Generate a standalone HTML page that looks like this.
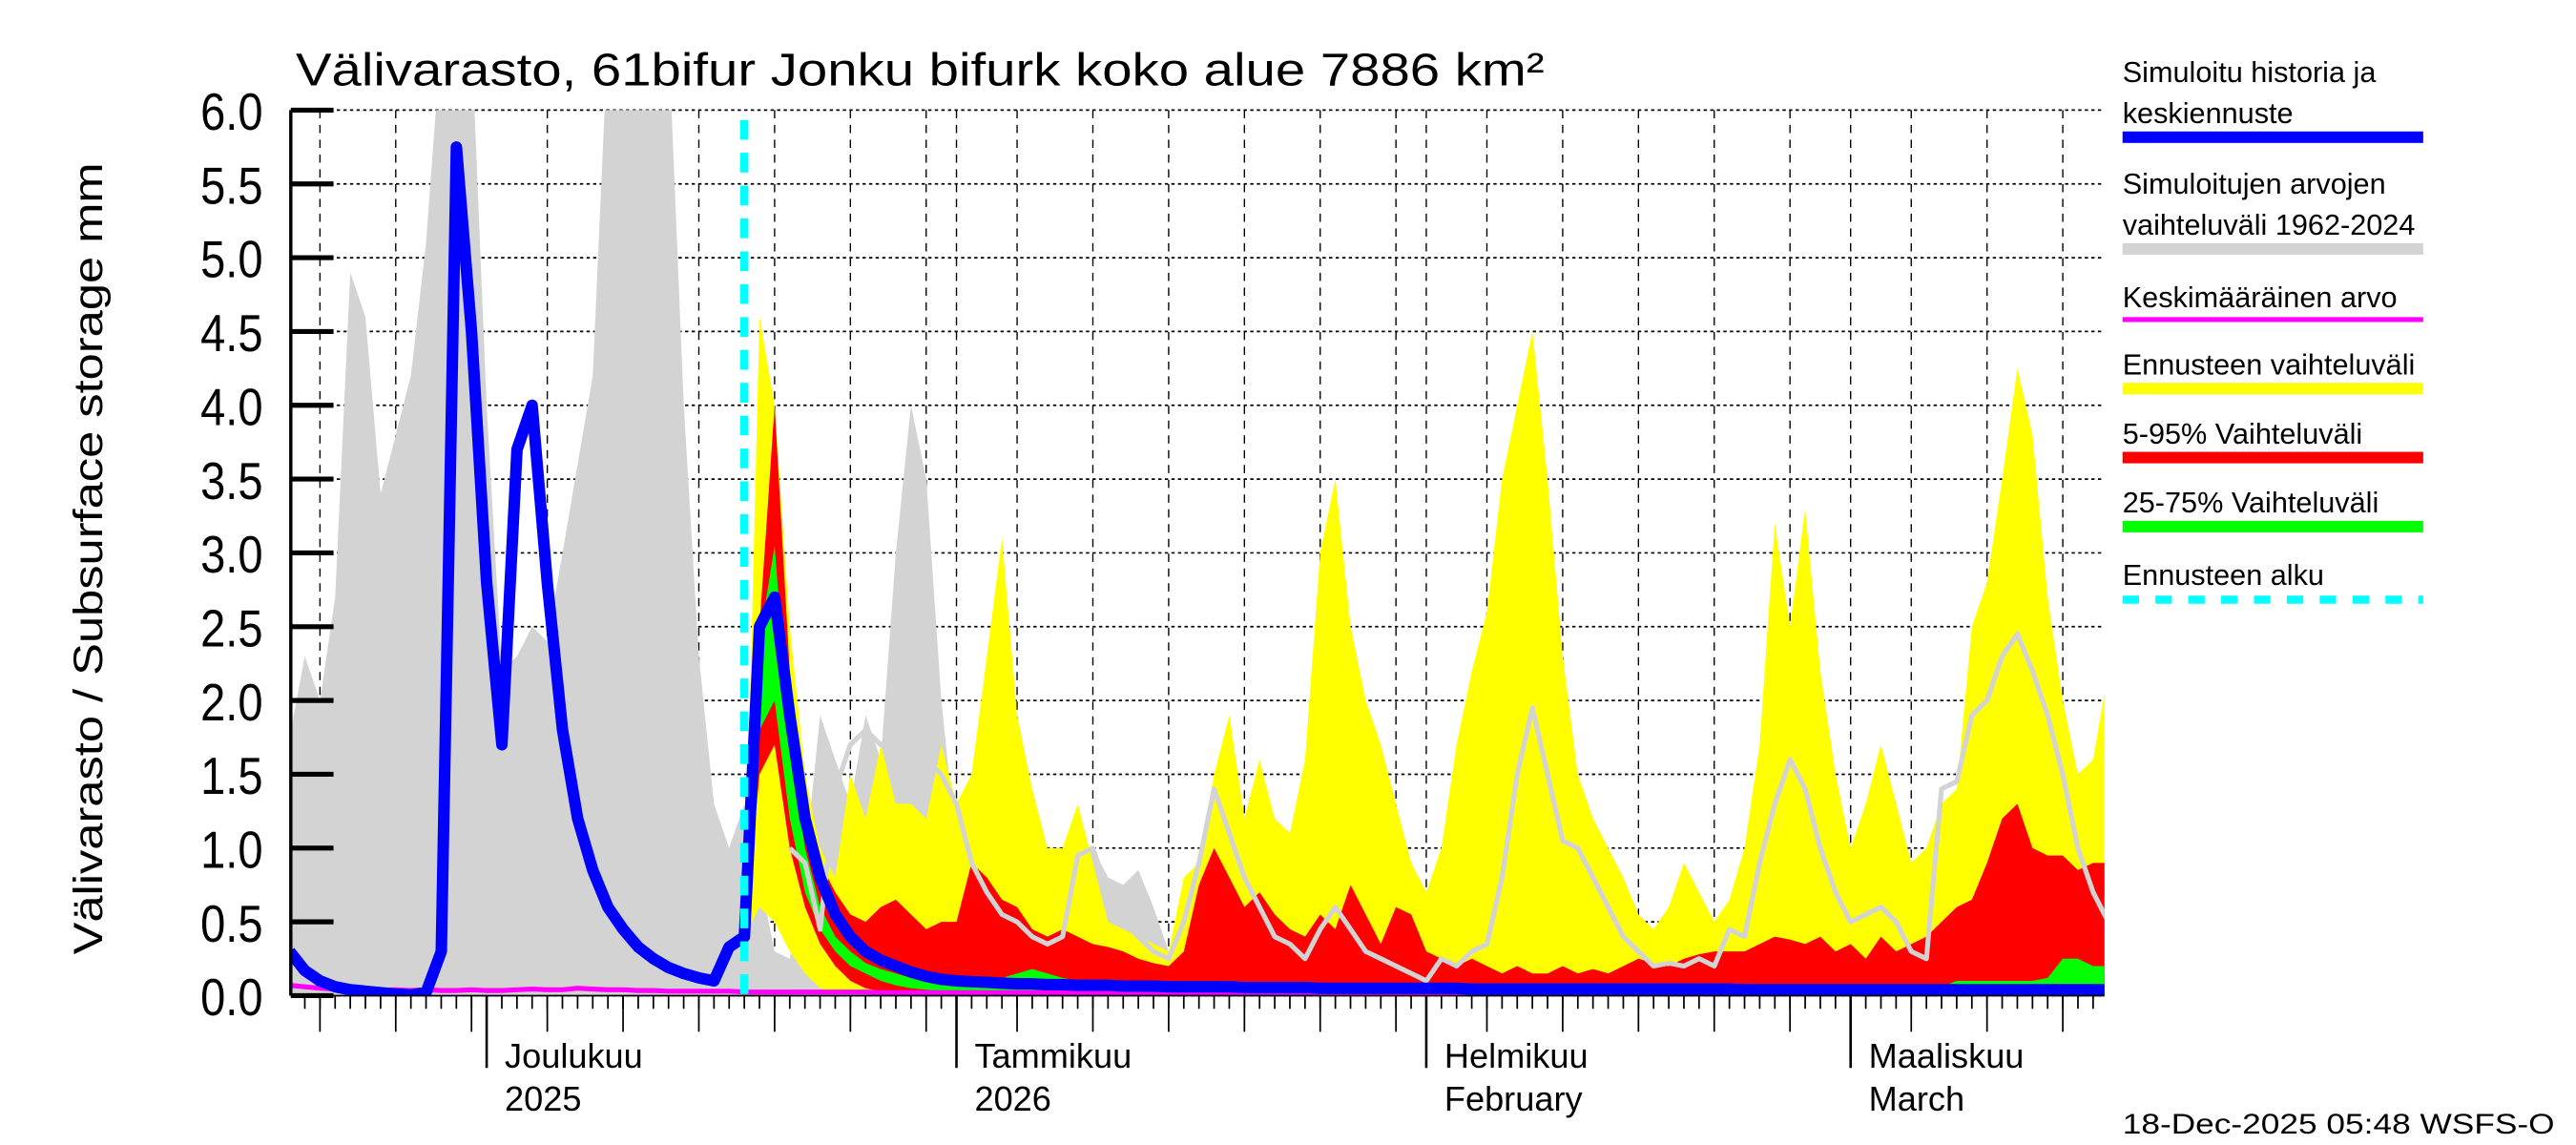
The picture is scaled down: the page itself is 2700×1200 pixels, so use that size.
<!DOCTYPE html>
<html><head><meta charset="utf-8"><style>
html,body{margin:0;padding:0;background:#fff;}
svg{display:block;}
text{font-family:"Liberation Sans",sans-serif;fill:#000;}
</style></head><body>
<svg id="chart" width="2700" height="1200" viewBox="0 0 1568 696.9" xmlns="http://www.w3.org/2000/svg">
<defs><clipPath id="plotclip"><rect x="177" y="67" width="1104" height="539"/></clipPath></defs>
<rect x="0" y="0" width="1568" height="697" fill="#fff"/>
<text x="180" y="52" font-size="28" textLength="760" lengthAdjust="spacingAndGlyphs">Välivarasto, 61bifur Jonku bifurk koko alue 7886 km²</text>
<g id="grid"></g>
<g id="series" clip-path="url(#plotclip)"></g>
<g id="axes"></g>
<text transform="translate(62,340) rotate(-90)" text-anchor="middle" font-size="25" textLength="482" lengthAdjust="spacingAndGlyphs">Välivarasto / Subsurface storage  mm</text>
<g id="legend">
<text x="1292" y="50" font-size="17.8">Simuloitu historia ja</text>
<text x="1292" y="75" font-size="17.8">keskiennuste</text>
<rect x="1292" y="80" width="183" height="7" fill="#0000ff"/>
<text x="1292" y="118" font-size="17.8">Simuloitujen arvojen</text>
<text x="1292" y="143" font-size="17.8">vaihteluväli 1962-2024</text>
<rect x="1292" y="148" width="183" height="7" fill="#d3d3d3"/>
<text x="1292" y="187" font-size="17.8">Keskimääräinen arvo</text>
<rect x="1292" y="193" width="183" height="3" fill="#ff00ff"/>
<text x="1292" y="228" font-size="17.8">Ennusteen vaihteluväli</text>
<rect x="1292" y="233" width="183" height="7" fill="#ffff00"/>
<text x="1292" y="270" font-size="17.8">5-95% Vaihteluväli</text>
<rect x="1292" y="275" width="183" height="7" fill="#ff0000"/>
<text x="1292" y="312" font-size="17.8">25-75% Vaihteluväli</text>
<rect x="1292" y="317" width="183" height="7" fill="#00ff00"/>
<text x="1292" y="356" font-size="17.8">Ennusteen alku</text>
<line x1="1292" y1="365" x2="1475" y2="365" stroke="#00ffff" stroke-width="5" stroke-dasharray="10 10"/>
</g>
<text x="1292" y="690" font-size="17" textLength="263" lengthAdjust="spacingAndGlyphs">18-Dec-2025 05:48 WSFS-O</text>
</svg>
<script>
// ---- data (days relative to 1 Jan 2026) ----
const yTicks = [0,0.5,1,1.5,2,2.5,3,3.5,4,4.5,5,5.5,6];
const yTickLabels = ["0.0","0.5","1.0","1.5","2.0","2.5","3.0","3.5","4.0","4.5","5.0","5.5","6.0"];
const monthDays = [-31,0,31,59];
const monthLabels1 = ["Joulukuu","Tammikuu","Helmikuu","Maaliskuu"];
const monthLabels2 = ["2025","2026","February","March"];
const gridDays = [-42,-37,-32,-27,-22,-17,-12,-7,-2,0,4,9,14,19,24,29,31,35,40,45,50,55,59,63,68,73];
const forecastStartDay = -14;
const histStart = -44;
const histMax = [1.75,2.3,2.0,2.7,4.9,4.6,3.4,3.8,4.2,5.1,6.5,6.5,6.5,4.0,2.2,2.3,2.5,2.4,3.0,3.6,4.2,6.5,6.5,6.5,6.5,6.5,4.0,2.3,1.3,1.0,1.3,0.8,0.3,0.25,0.9,1.9,1.6,1.3,1.9,1.6,3.0,4.0,3.5,2.0,1.0,0.8,0.7,0.6,0.6,0.6,0.7,0.8,0.9,1.0,0.8,0.75,0.85,0.6,0.3,0.25,0.25,0.25,0.25,0.25,0.25,0.25,0.25,0.25,0.25,0.25,0.25,0.25,0.25,0.25,0.25,0.25,0.25,0.25,0.25,0.25,0.25,0.25,0.25,0.25,0.25,0.25,0.25,0.25,0.25,0.25,0.25,0.25,0.25,0.25,0.25,0.25,0.25,0.25,0.25,0.25,0.25,0.25,0.25,0.25,0.25,0.25,0.25,0.25,0.25,0.25,0.25,0.25,0.25,0.25,0.25,0.25,0.25,0.25,0.25,0.25,0.25];
const fcStart = -14;
const yellowHi = [0.45,4.6,4.0,2.5,1.5,1.0,0.8,1.5,1.2,1.7,1.3,1.3,1.2,1.7,1.3,1.5,2.3,3.1,1.9,1.4,1.0,1.0,1.3,0.9,0.5,0.45,0.4,0.35,0.3,0.8,0.9,1.5,1.9,1.2,1.6,1.2,1.1,1.6,3.0,3.5,2.5,2.0,1.7,1.3,0.9,0.7,1.0,1.7,2.2,2.6,3.5,4.0,4.5,3.5,2.3,1.5,1.2,1.0,0.8,0.55,0.45,0.6,0.9,0.7,0.5,0.65,1.0,1.7,3.2,2.5,3.3,2.2,1.5,1.0,1.3,1.7,1.3,0.9,1.0,1.3,1.4,2.5,2.8,3.5,4.25,3.8,2.7,2.0,1.5,1.6,2.2];
const yellowLo = [0.4,0.6,0.5,0.3,0.15,0.05,0.02,0.01,0.01,0.01,0.01,0.01,0.01,0.01];
const redHi = [0.4,2.5,4.0,2.2,1.3,0.9,0.7,0.55,0.5,0.6,0.65,0.55,0.45,0.5,0.5,0.9,0.8,0.65,0.6,0.45,0.4,0.45,0.4,0.35,0.33,0.3,0.25,0.22,0.2,0.3,0.75,1.0,0.8,0.6,0.7,0.55,0.45,0.4,0.55,0.45,0.75,0.55,0.35,0.6,0.55,0.3,0.25,0.2,0.25,0.2,0.15,0.2,0.15,0.15,0.2,0.15,0.18,0.15,0.2,0.25,0.22,0.2,0.25,0.28,0.3,0.3,0.3,0.35,0.4,0.38,0.35,0.4,0.3,0.35,0.25,0.4,0.3,0.35,0.4,0.5,0.6,0.65,0.9,1.2,1.3,1.0,0.95,0.95,0.85,0.9,0.9];
const redLo = [0.4,1.5,1.7,1.0,0.6,0.35,0.2,0.1,0.05,0.03,0.02,0.01,0.01,0.01];
const greenHi = [0.4,2.4,3.05,1.7,1.0,0.6,0.4,0.3,0.22,0.18,0.15,0.12,0.1,0.09,0.08,0.08,0.1,0.12,0.15,0.18,0.15,0.12,0.1,0.08,0.08,0.08,0.08,0.08,0.07,0.07,0.07,0.08,0.08,0.08,0.07,0.07,0.07,0.07,0.07,0.07,0.07,0.07,0.07,0.06,0.06,0.06,0.06,0.06,0.06,0.06,0.06,0.06,0.06,0.06,0.06,0.06,0.06,0.06,0.06,0.06,0.06,0.06,0.06,0.06,0.06,0.06,0.06,0.06,0.06,0.06,0.06,0.06,0.06,0.06,0.06,0.06,0.06,0.06,0.06,0.06,0.1,0.1,0.1,0.1,0.1,0.1,0.12,0.25,0.25,0.2,0.2];
const greenLo = [0.4,1.8,2.0,1.2,0.7,0.45,0.3,0.2,0.15,0.1,0.07,0.05,0.04,0.03];
const lgStart = -11;
const lightLine = [1.0,0.9,0.45,1.4,1.7,1.8,1.7,1.75,1.65,1.6,1.5,1.3,0.9,0.7,0.55,0.5,0.4,0.35,0.4,0.95,1.0,0.7,0.5,0.4,0.3,0.25,0.5,0.9,1.4,1.1,0.8,0.6,0.4,0.35,0.25,0.45,0.6,0.45,0.3,0.25,0.2,0.15,0.1,0.25,0.2,0.3,0.35,0.8,1.5,1.95,1.5,1.05,1.0,0.8,0.6,0.4,0.3,0.2,0.22,0.2,0.25,0.2,0.45,0.4,0.9,1.3,1.6,1.4,1.0,0.7,0.5,0.55,0.6,0.5,0.3,0.25,1.4,1.45,1.9,2.0,2.3,2.45,2.2,1.9,1.5,1.0,0.7,0.5];
const blueStart = -44;
const blueLine = [0.3,0.17,0.1,0.06,0.04,0.03,0.02,0.01,0.005,0.02,0.3,5.75,4.5,2.8,1.7,3.7,4.0,2.8,1.8,1.2,0.85,0.6,0.45,0.33,0.25,0.19,0.15,0.12,0.1,0.33,0.4,2.5,2.7,1.9,1.2,0.8,0.55,0.4,0.3,0.24,0.2,0.16,0.13,0.11,0.1,0.095,0.09,0.085,0.08,0.08,0.075,0.075,0.07,0.07,0.07,0.065,0.065,0.065,0.06,0.06,0.06,0.06,0.06,0.055,0.055,0.055,0.055,0.055,0.05,0.05,0.05,0.05,0.05,0.05,0.05,0.05,0.05,0.05,0.045,0.045,0.045,0.045,0.045,0.045,0.045,0.045,0.045,0.045,0.045,0.045,0.045,0.045,0.045,0.045,0.045,0.045,0.04,0.04,0.04,0.04,0.04,0.04,0.04,0.04,0.04,0.04,0.04,0.04,0.04,0.04,0.04,0.04,0.04,0.04,0.04,0.04,0.04,0.04,0.04,0.04,0.04];
const meanStart = -44;
const meanLine = [0.07,0.06,0.05,0.045,0.04,0.04,0.035,0.04,0.035,0.04,0.035,0.035,0.04,0.035,0.035,0.04,0.045,0.04,0.04,0.05,0.045,0.04,0.04,0.035,0.035,0.03,0.03,0.03,0.03,0.03,0.025,0.025,0.025,0.025,0.025,0.025,0.025,0.025,0.025,0.02,0.02,0.02,0.02,0.02,0.02,0.02,0.02,0.02,0.02,0.02,0.02,0.02,0.02,0.02,0.02,0.02,0.02,0.02,0.02,0.02,0.02,0.02,0.02,0.02,0.02,0.02,0.02,0.02,0.02,0.02,0.02,0.02,0.02,0.02,0.02,0.02,0.02,0.02,0.02,0.02,0.02,0.02,0.02,0.02,0.02,0.02,0.02,0.02,0.02,0.02,0.02,0.02,0.02,0.02,0.02,0.02,0.02,0.02,0.02,0.02,0.02,0.02,0.02,0.02,0.02,0.02,0.02,0.02,0.02,0.02,0.02,0.02,0.02,0.02,0.02,0.02,0.02,0.02,0.02,0.02,0.02];

// ---- scales ----
const X0 = 582.2, PX_PER_DAY = 9.225, Y0 = 606, PX_PER_UNIT = 89.83;
const PL = 177, PR = 1281, PT = 67;
function xs(d){ return X0 + PX_PER_DAY * d; }
function ys(v){ return Y0 - PX_PER_UNIT * v; }
const NS = "http://www.w3.org/2000/svg";
function mk(tag, attrs, parent){ const e = document.createElementNS(NS, tag); for (const k in attrs) e.setAttribute(k, attrs[k]); parent.appendChild(e); return e; }
const grid = document.getElementById('grid'), series = document.getElementById('series'), axes = document.getElementById('axes');

yTicks.forEach(function(v){
  const l = mk('line', {x1:PL, x2:PR, y1:ys(v), y2:ys(v), stroke:'#000', 'stroke-width':1, 'stroke-dasharray':'2 2'}, grid);
  
  
});
gridDays.forEach(function(d){
  const l = mk('line', {x1:xs(d), x2:xs(d), y1:PT, y2:Y0, stroke:'#000', 'stroke-width':0.8, 'stroke-dasharray':'5 4'}, grid);
  
  
});

function pts(start, arr){ return arr.map(function(v,i){ return [xs(start+i), ys(v)]; }); }
function band(start, hi, lo, fill, name){
  const top = pts(start, hi);
  const lowVals = hi.map(function(_,i){ return i < lo.length ? lo[i] : 0; });
  const bot = pts(start, lowVals).reverse();
  const d = 'M' + top.concat(bot).map(function(p){ return p[0].toFixed(1)+','+p[1].toFixed(1); }).join('L') + 'Z';
  const p = mk('path', {d:d, fill:fill, stroke:'none'}, series);
  
  
}
function line(start, arr, color, w, name){
  const d = 'M' + pts(start, arr).map(function(p){ return p[0].toFixed(1)+','+p[1].toFixed(1); }).join('L');
  const p = mk('path', {d:d, fill:'none', stroke:color, 'stroke-width':w, 'stroke-linejoin':'round'}, series);
  
  
}
band(histStart, histMax, [], '#d3d3d3', 'historical-range-band');
band(fcStart, yellowHi, yellowLo, '#ffff00', 'forecast-range-band');
band(fcStart, redHi, redLo, '#ff0000', 'band-5-95');
band(fcStart, greenHi, greenLo, '#00ff00', 'band-25-75');
line(lgStart, lightLine, '#d3d3d3', 3, 'light-gray-series');
line(meanStart, meanLine, '#ff00ff', 3, 'mean-line');
line(blueStart, blueLine, '#0000ff', 7, 'history-median-line');
const fs = mk('line', {x1:xs(forecastStartDay), x2:xs(forecastStartDay), y1:73, y2:Y0, stroke:'#00ffff', 'stroke-width':5, 'stroke-dasharray':'12 8'}, series);



const ax = mk('line', {x1:PL, x2:PL, y1:PT, y2:Y0, stroke:'#000', 'stroke-width':2}, axes);


const bx = mk('line', {x1:PL, x2:PR, y1:Y0, y2:Y0, stroke:'#000', 'stroke-width':1}, axes);


yTicks.forEach(function(v,i){
  const t = mk('line', {x1:PL, x2:PL+26, y1:ys(v), y2:ys(v), stroke:'#000', 'stroke-width':3}, axes);
  
  
  const tx = mk('text', {x:160, y:ys(v)+12, 'font-size':32, 'text-anchor':'end', textLength:38, lengthAdjust:'spacingAndGlyphs'}, axes);
  tx.textContent = yTickLabels[i];
  
  
});
for (let d = -43; d <= 75; d++){
  const t = mk('line', {x1:xs(d), x2:xs(d), y1:Y0, y2:Y0+8, stroke:'#000', 'stroke-width':1}, axes);
  
  
}
gridDays.forEach(function(d){
  const t = mk('line', {x1:xs(d), x2:xs(d), y1:Y0, y2:Y0+22, stroke:'#000', 'stroke-width':1}, axes);
  
  
});
monthDays.forEach(function(d,i){
  const t = mk('line', {x1:xs(d), x2:xs(d), y1:Y0, y2:Y0+44, stroke:'#000', 'stroke-width':1.5}, axes);
  
  
  const a = mk('text', {x:xs(d)+11, y:650, 'font-size':21}, axes);
  a.textContent = monthLabels1[i];
  
  
  const b = mk('text', {x:xs(d)+11, y:676, 'font-size':21}, axes);
  b.textContent = monthLabels2[i];
  
  
});
</script>
</body></html>
